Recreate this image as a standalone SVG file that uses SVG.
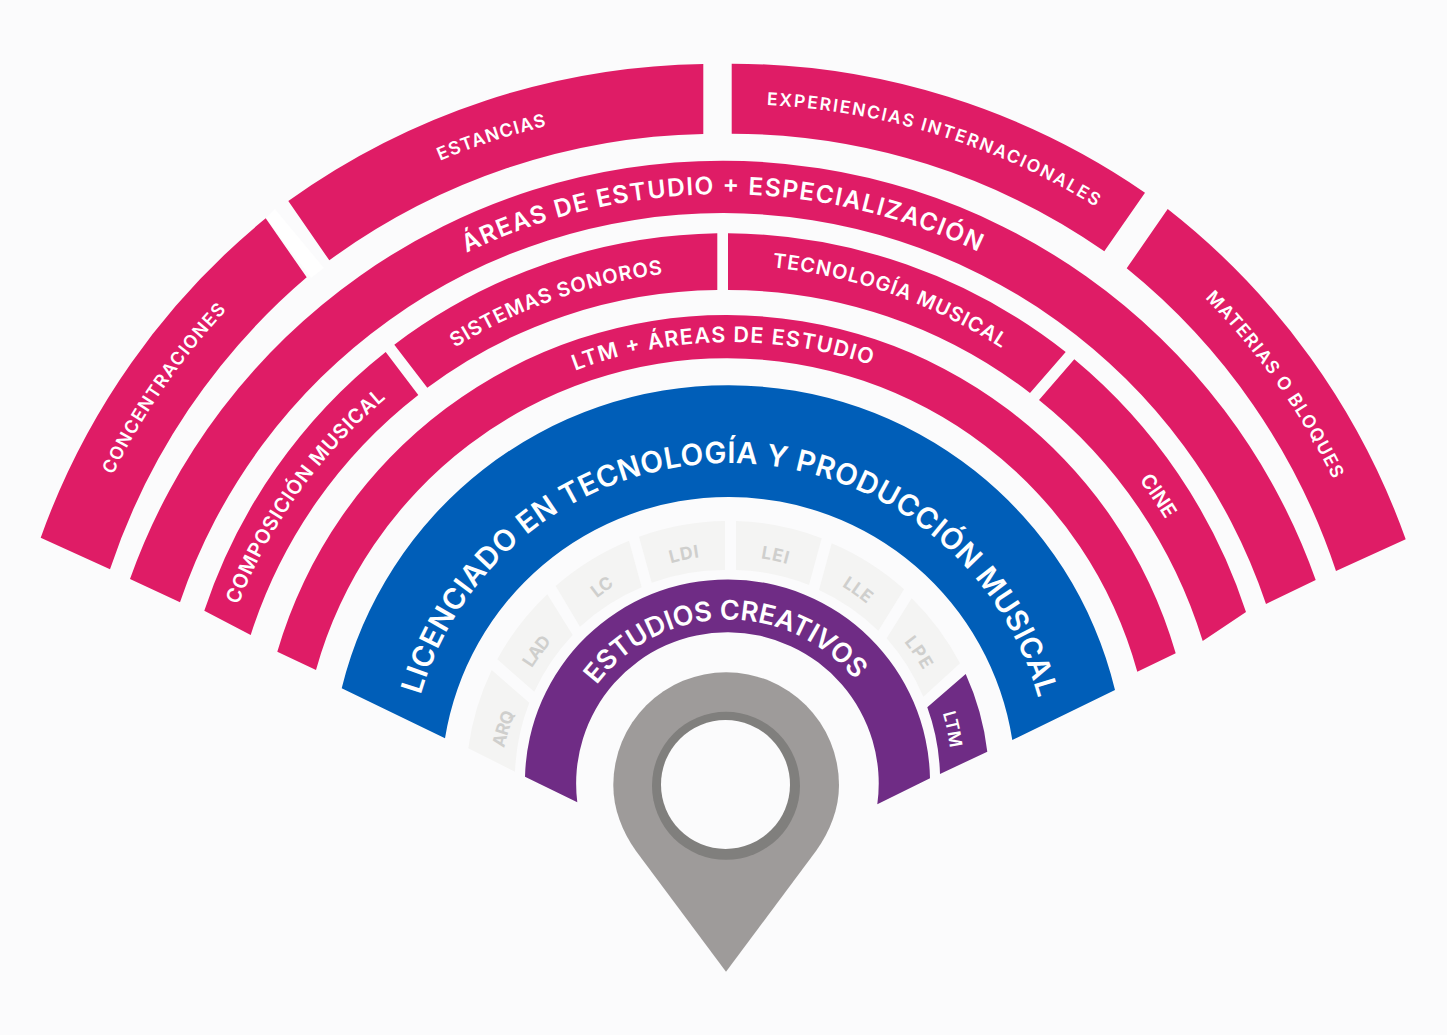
<svg xmlns="http://www.w3.org/2000/svg" width="1447" height="1035" viewBox="0 0 1447 1035">
<style>
text{font-family:"Inter","Liberation Sans",sans-serif;fill:#fff;font-weight:600}
.p{fill:#df1c66}.b{fill:#005eb8}.v{fill:#6f2c85}.g{fill:#f4f4f3}
.gt{fill:#cfcfcd;font-size:17.5px;font-weight:700}
</style>
<defs>
<path id="t1" d="M112.7 475A691 691 0 0 1 226.7 310"/>
<path id="t2" d="M440 160.7A691 691 0 0 1 546.7 126"/>
<path id="t3" d="M766.7 105A690 690 0 0 1 1096 206.7"/>
<path id="t4" d="M1205 298A686 686 0 0 1 1333.3 479.3"/>
<path id="t5" d="M466.7 252.7A593 593 0 0 1 978.3 251.7"/>
<path id="t6" d="M455 347.7A514 514 0 0 1 662.7 274"/>
<path id="t7" d="M772.3 267.3A519 519 0 0 1 1001.7 348.3"/>
<path id="t8" d="M238.3 605A516 516 0 0 1 386 398.3"/>
<path id="t9" d="M1139.3 480A515 515 0 0 1 1165.7 519.3"/>
<path id="t10" d="M575 370.7A440 440 0 0 1 870.7 365"/>
<path id="t11" d="M420.7 695A321 321 0 0 1 1038.3 698"/>
<path id="t12" d="M596.7 685A164 164 0 0 1 855 680"/>
<path id="t13" d="M942.7 713A226 226 0 0 1 950 748"/>
<path id="g1" d="M504 748.3A226 226 0 0 1 515 713.3"/>
<path id="g2" d="M531.7 668.3A226 226 0 0 1 551.7 641.7"/>
<path id="g3" d="M596.7 598.3A227 227 0 0 1 611.7 587.3"/>
<path id="g4" d="M670.7 563.3A227 227 0 0 1 699.3 557.3"/>
<path id="g5" d="M760.7 558.3A227 227 0 0 1 787.3 564"/>
<path id="g6" d="M841.7 586A227 227 0 0 1 866.7 604"/>
<path id="g7" d="M904 641.7A226 226 0 0 1 923.3 670"/>
</defs>
<rect width="1447" height="1035" fill="#fbfbfc"/>
<polygon points="266,218 275,209 324,268 311,278" fill="#fff"/>

<g id="concentraciones"><path class="p" d="M40.7 537.7A730 730 0 0 1 265.7 218.3L306.7 277.3A655 655 0 0 0 110 569.3Z"/>
<text font-size="18"><textPath href="#t1" textLength="201">CONCENTRACIONES</textPath></text></g>
<g id="estancias"><path class="p" d="M288.3 201A730 730 0 0 1 703.3 64V134A655 655 0 0 0 329.3 260.3Z"/>
<text font-size="18"><textPath href="#t2" textLength="112">ESTANCIAS</textPath></text></g>
<g id="experiencias"><path class="p" d="M731.7 63.7A730 730 0 0 1 1145 192.7L1104.3 251.3A655 655 0 0 0 731.7 133.7Z"/>
<text font-size="17.5"><textPath href="#t3" textLength="348">EXPERIENCIAS INTERNACIONALES</textPath></text></g>
<g id="materias"><path class="p" d="M1167.7 209A730 730 0 0 1 1405.7 539.3L1336 571A655 655 0 0 0 1126.7 268.3Z"/>
<text font-size="18"><textPath href="#t4" textLength="223">MATERIAS O BLOQUES</textPath></text></g>

<g id="areas-especializacion"><path class="p" d="M130 579A629 629 0 0 1 1315.7 580L1266 604A573 573 0 0 0 180 602.3Z"/>
<text font-size="24.5" font-weight="700"><textPath href="#t5" textLength="529">ÁREAS DE ESTUDIO + ESPECIALIZACIÓN</textPath></text></g>

<g id="composicion"><path class="p" d="M204.3 610.7A552 552 0 0 1 385.7 352L418.3 395A495 495 0 0 0 250.7 635Z"/>
<text font-size="20" font-weight="500"><textPath href="#t8" textLength="256.7">COMPOSICIÓN MUSICAL</textPath></text></g>
<g id="sistemas"><path class="p" d="M394.3 344.7A552 552 0 0 1 717.3 233.3V290A495 495 0 0 0 427.3 387.7Z"/>
<text font-size="20" font-weight="500"><textPath href="#t6" textLength="222">SISTEMAS SONOROS</textPath></text></g>
<g id="tecnologia"><path class="p" d="M728 233.3A552 552 0 0 1 1065.7 352L1030 393A495 495 0 0 0 728 290Z"/>
<text font-size="20" font-weight="500"><textPath href="#t7" textLength="245.6">TECNOLOGÍA MUSICAL</textPath></text></g>
<g id="cine"><path class="p" d="M1074.3 359.3A552 552 0 0 1 1246 612L1202.7 641A495 495 0 0 0 1039 400Z"/>
<text font-size="20" font-weight="500"><textPath href="#t9" textLength="47.4">CINE</textPath></text></g>

<g id="ltm-areas"><path class="p" d="M277.3 651.7A467.7 467.7 0 0 1 1175.7 653.3L1137.3 671.7A426 426 0 0 0 316 670Z"/>
<text font-size="21.5" font-weight="700"><textPath href="#t10" textLength="301.7">LTM + ÁREAS DE ESTUDIO</textPath></text></g>

<g id="licenciado"><path class="b" d="M341.7 688.3A397.9 397.9 0 0 1 1115 690L1012.3 740A287.2 287.2 0 0 0 445 738.3Z"/>
<text font-size="29.5" font-weight="700"><textPath href="#t11" textLength="830.8">LICENCIADO EN TECNOLOGÍA Y PRODUCCIÓN MUSICAL</textPath></text></g>

<g id="arq"><path class="g" d="M491.7 670A262 262 0 0 0 468.3 748.3L515 771.7A213 213 0 0 1 529.3 702.7Z"/><text class="gt"><textPath href="#g1" textLength="36.7">ARQ</textPath></text></g>
<g id="lad"><path class="g" d="M497.3 659.3A262 262 0 0 1 547.3 594.3L572.7 635A213 213 0 0 0 534.3 691.7Z"/><text class="gt"><textPath href="#g2" textLength="33.3">LAD</textPath></text></g>
<g id="lc"><path class="g" d="M555.7 586A262 262 0 0 1 629 540.7L641.7 587.3A213 213 0 0 0 580 626.7Z"/><text class="gt"><textPath href="#g3" textLength="22">LC</textPath></text></g>
<g id="ldi"><path class="g" d="M639 536.7A262 262 0 0 1 725 521V570A213 213 0 0 0 651.7 582.7Z"/><text class="gt"><textPath href="#g4" textLength="29.2">LDI</textPath></text></g>
<g id="lei"><path class="g" d="M736 521A262 262 0 0 1 821.7 538.3L809 585A213 213 0 0 0 736 570Z"/><text class="gt"><textPath href="#g5" textLength="27.2">LEI</textPath></text></g>
<g id="lle"><path class="g" d="M831.7 543.3A262 262 0 0 1 904 589.3L878.3 630.7A213 213 0 0 0 819 590Z"/><text class="gt"><textPath href="#g6" textLength="30.8">LLE</textPath></text></g>
<g id="lpe"><path class="g" d="M911.7 598.3A262 262 0 0 1 960 663.3L923.3 696.7A213 213 0 0 0 886.7 638.3Z"/><text class="gt"><textPath href="#g7" textLength="34.3">LPE</textPath></text></g>

<g id="estudios"><path class="v" d="M525 776.7A202.55 202.55 0 0 1 930 778.3L877.3 804.3A151.3 151.3 0 1 0 577.3 802.3Z"/>
<text font-size="27" font-weight="700"><textPath href="#t12" textLength="297.3">ESTUDIOS CREATIVOS</textPath></text></g>
<g id="ltm"><path class="v" d="M965.7 674A262 262 0 0 1 987.3 751.7L940 774A213 213 0 0 0 927.3 707.3Z"/>
<text font-size="17.5" font-weight="700"><textPath href="#t13" textLength="35.8">LTM</textPath></text></g>

<g id="pin"><path fill="#9e9b9a" d="M726 971.7L636 851C622 831 613.3 809 613.3 785A112.8 112.8 0 0 1 839 785C839 809 830 831 816 851Z"/>
<circle cx="726" cy="785.8" r="74" fill="#807f7d"/><circle cx="725.5" cy="784.5" r="64.5" fill="#fbfbfc"/></g>
</svg>
